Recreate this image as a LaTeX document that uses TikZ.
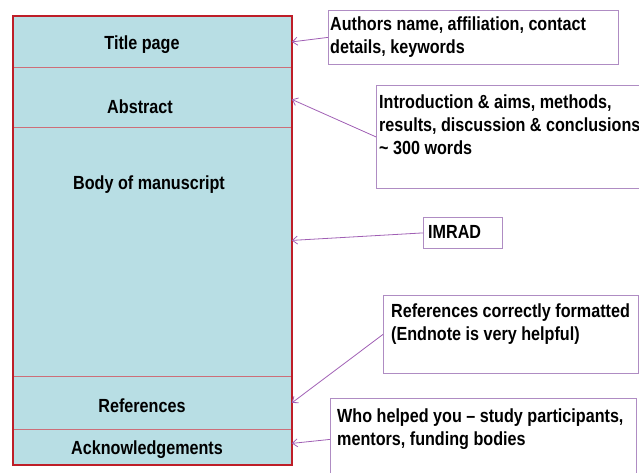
\documentclass[tikz,border=0pt]{standalone}
\usepackage{fontspec}
\setmainfont{Liberation Sans}[FakeStretch=0.85]
\usetikzlibrary{arrows.meta}
\definecolor{SheetCyan}{RGB}{184,222,228}
\definecolor{FrameRed}{RGB}{190,30,40}
\definecolor{RuleRed}{RGB}{205,110,120}
\definecolor{NotePurple}{RGB}{160,95,180}
\definecolor{NoteLine}{RGB}{175,140,195}

\begin{document}
\begin{tikzpicture}[
	x=1pt,
	y=-1pt,
	section/.style={
		draw=RuleRed,
		fill=SheetCyan,
		line width=0.8pt,
		minimum width=278pt,
		inner sep=0pt,
		anchor=north west
	},
	sectext/.style={
		font=\fontsize{19}{23}\selectfont\bfseries,
		anchor=base,
		inner sep=0pt
	},
	note/.style={
		draw=NoteLine,
		line width=0.8pt,
		inner sep=0pt,
		anchor=north west
	},
	notetext/.style={
		font=\fontsize{19}{23}\selectfont\bfseries,
		align=left,
		anchor=north west,
		inner sep=0pt
	},
	pointer/.style={
		NotePurple,
		line width=0.8pt,
		-{Straight Barb[length=5pt,width=8pt]}
	}
	]
	
	\path[use as bounding box, clip] (0,0) rectangle (639,472);
	
	\node[section, minimum height=51pt] (title) at (13,16) {};
	\node[section, minimum height=60pt] (abstract) at (13,67) {};
	\node[section, minimum height=249pt] (body) at (13,127) {};
	\node[section, minimum height=53pt] (refs) at (13,376) {};
	\node[section, minimum height=35pt] (ack) at (13,429) {};
	
	\draw[FrameRed, line width=2pt] (title.north west) rectangle (ack.south east);
	
	\node[sectext] (titlelbl) at (142,49) {Title page};
	\node[sectext] (abstractlbl) at (140,113) {Abstract};
	\node[sectext] (bodylbl) at (149,189) {Body of manuscript};
	\node[sectext] (refslbl) at (142,412) {References};
	\node[sectext] (acklbl) at (147,454) {Acknowledgements};
	
	\node[note, minimum width=290pt, minimum height=54pt] (authors) at (328,10) {};
	\node[note, minimum width=300pt, minimum height=103pt] (intro) at (376,85) {};
	\node[note, minimum width=79pt, minimum height=31pt] (imrad) at (423,217) {};
	\node[note, minimum width=255pt, minimum height=78pt] (refsnote) at (383,295) {};
	\node[note, minimum width=306pt, minimum height=82pt] (who) at (330,398) {};
	
	\node[notetext] (authorstext) at (330,17) {Authors name, affiliation, contact\\details, keywords};
	\node[notetext] (introtext) at (379,95) {Introduction \& aims, methods,\\results, discussion \& conclusions\\\textasciitilde{} 300 words};
	\node[notetext] (imradtext) at (428,225) {IMRAD};
	\node[notetext] (refsnotetext) at (391,304) {References correctly formatted\\(Endnote is very helpful)};
	\node[notetext] (whotext) at (337,409) {Who helped you -- study participants,\\mentors, funding bodies};
	
	\draw[pointer] (authors.west) -- (title.east);
	\draw[pointer] (intro.west) -- ([yshift=-2pt]abstract.east);
	\draw[pointer] (imrad.west) -- ([yshift=11.5pt]body.east);
	\draw[pointer] (refsnote.west) -- (refs.east);
	\draw[pointer] (who.west) -- ([yshift=3.5pt]ack.east);
	
\end{tikzpicture}
\end{document}
